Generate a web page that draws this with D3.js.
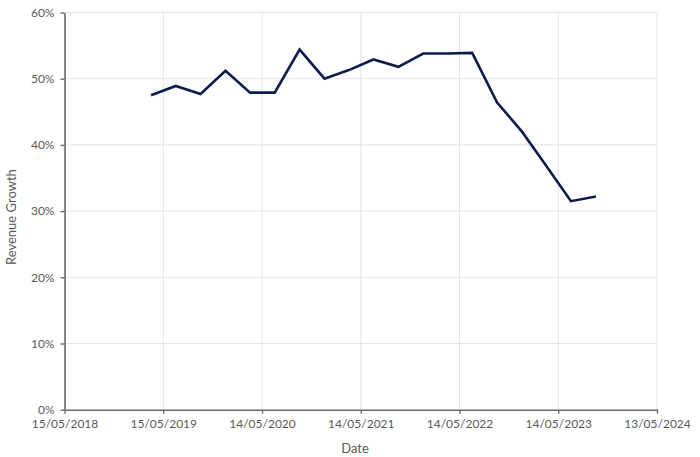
<!DOCTYPE html>
<html>
<head>
<meta charset="utf-8">
<script src="https://cdn.jsdelivr.net/npm/d3@7"></script>
<style>
  html, body { margin: 0; padding: 0; background: #ffffff; }
  svg { display: block; }
  text { font-family: Lato, "Open Sans", sans-serif; }
</style>
</head>
<body>
<svg id="chart" width="700" height="457"></svg>
<script>
const dates = [
  "2019-03-31","2019-06-30","2019-09-30","2019-12-31",
  "2020-03-31","2020-06-30","2020-09-30","2020-12-31",
  "2021-03-31","2021-06-30","2021-09-30","2021-12-31",
  "2022-03-31","2022-06-30","2022-09-30","2022-12-31",
  "2023-03-31","2023-06-30","2023-09-30"
];
const revenueGrowth = [
  0.475, 0.489, 0.477, 0.512,
  0.479, 0.479, 0.544, 0.500,
  0.513, 0.529, 0.518, 0.538,
  0.538, 0.539, 0.464, 0.420,
  0.368, 0.315, 0.322
];
const xTickLabels = ["15/05/2018","15/05/2019","14/05/2020","14/05/2021","14/05/2022","14/05/2023","13/05/2024"];
const yTickValues = [0, 0.1, 0.2, 0.3, 0.4, 0.5, 0.6];
const xTitle = "Date";
const yTitle = "Revenue Growth";

const parseISO = d3.utcParse("%Y-%m-%d");
const parseDMY = d3.utcParse("%d/%m/%Y");
const fmtDMY = d3.utcFormat("%d/%m/%Y");

const data = dates.map((d, i) => ({ date: parseISO(d), value: revenueGrowth[i] }));
const xTicks = xTickLabels.map(parseDMY);

const margin = { left: 64.5, right: 43, top: 12.5, bottom: 47.3 };
const W = 700, H = 457;
const svg = d3.select("#chart");

const x = d3.scaleUtc()
  .domain([xTicks[0], xTicks[xTicks.length - 1]])
  .range([margin.left, W - margin.right]);
const y = d3.scaleLinear()
  .domain([0, 0.6])
  .range([H - margin.bottom, margin.top]);

const gridColor = "#e4e4e4";
const axisColor = "#6b6b6b";
const labelColor = "#595959";

// gridlines
svg.append("g").selectAll("line.h")
  .data(yTickValues.filter(v => v > 0))
  .join("line")
  .attr("x1", x.range()[0]).attr("x2", x.range()[1])
  .attr("y1", d => y(d)).attr("y2", d => y(d))
  .attr("stroke", gridColor).attr("stroke-width", 1);
svg.append("g").selectAll("line.v")
  .data(xTicks.slice(1))
  .join("line")
  .attr("x1", d => x(d)).attr("x2", d => x(d))
  .attr("y1", y.range()[0]).attr("y2", y.range()[1])
  .attr("stroke", gridColor).attr("stroke-width", 1);

// axes
const xAxis = d3.axisBottom(x).tickValues(xTicks).tickFormat(fmtDMY).tickSizeInner(4).tickSizeOuter(0).tickPadding(4);
const yAxis = d3.axisLeft(y).tickValues(yTickValues).tickFormat(d3.format(".0%")).tickSizeInner(4).tickSizeOuter(0).tickPadding(6);

const gx = svg.append("g").attr("transform", `translate(0,${y(0)})`).call(xAxis);
const gy = svg.append("g").attr("transform", `translate(${x.range()[0]},0)`).call(yAxis);
[gx, gy].forEach(g => {
  g.select(".domain").attr("stroke", axisColor).attr("stroke-width", 1.6);
  g.selectAll(".tick line").attr("stroke", axisColor).attr("stroke-width", 1.4);
  g.selectAll(".tick text").attr("fill", labelColor).style("font-size", "12px")
    .style("font-family", "Lato, 'Open Sans', sans-serif");
});
gx.selectAll(".tick text").attr("dy", "0.85em");

// line
const line = d3.line().x(d => x(d.date)).y(d => y(d.value));
svg.append("path")
  .datum(data)
  .attr("d", line)
  .attr("fill", "none")
  .attr("stroke", "#0d1c4c")
  .attr("stroke-width", 2.6)
  .attr("stroke-linejoin", "miter")
  .attr("stroke-linecap", "butt");

// titles
svg.append("text")
  .attr("x", 355).attr("y", 453)
  .attr("text-anchor", "middle")
  .attr("fill", labelColor)
  .style("font-size", "13px")
  .text(xTitle);
svg.append("text")
  .attr("transform", `translate(16,${(y.range()[0] + y.range()[1]) / 2 + 6}) rotate(-90)`)
  .attr("text-anchor", "middle")
  .attr("fill", labelColor)
  .style("font-size", "13px")
  .text(yTitle);
</script>
</body>
</html>
